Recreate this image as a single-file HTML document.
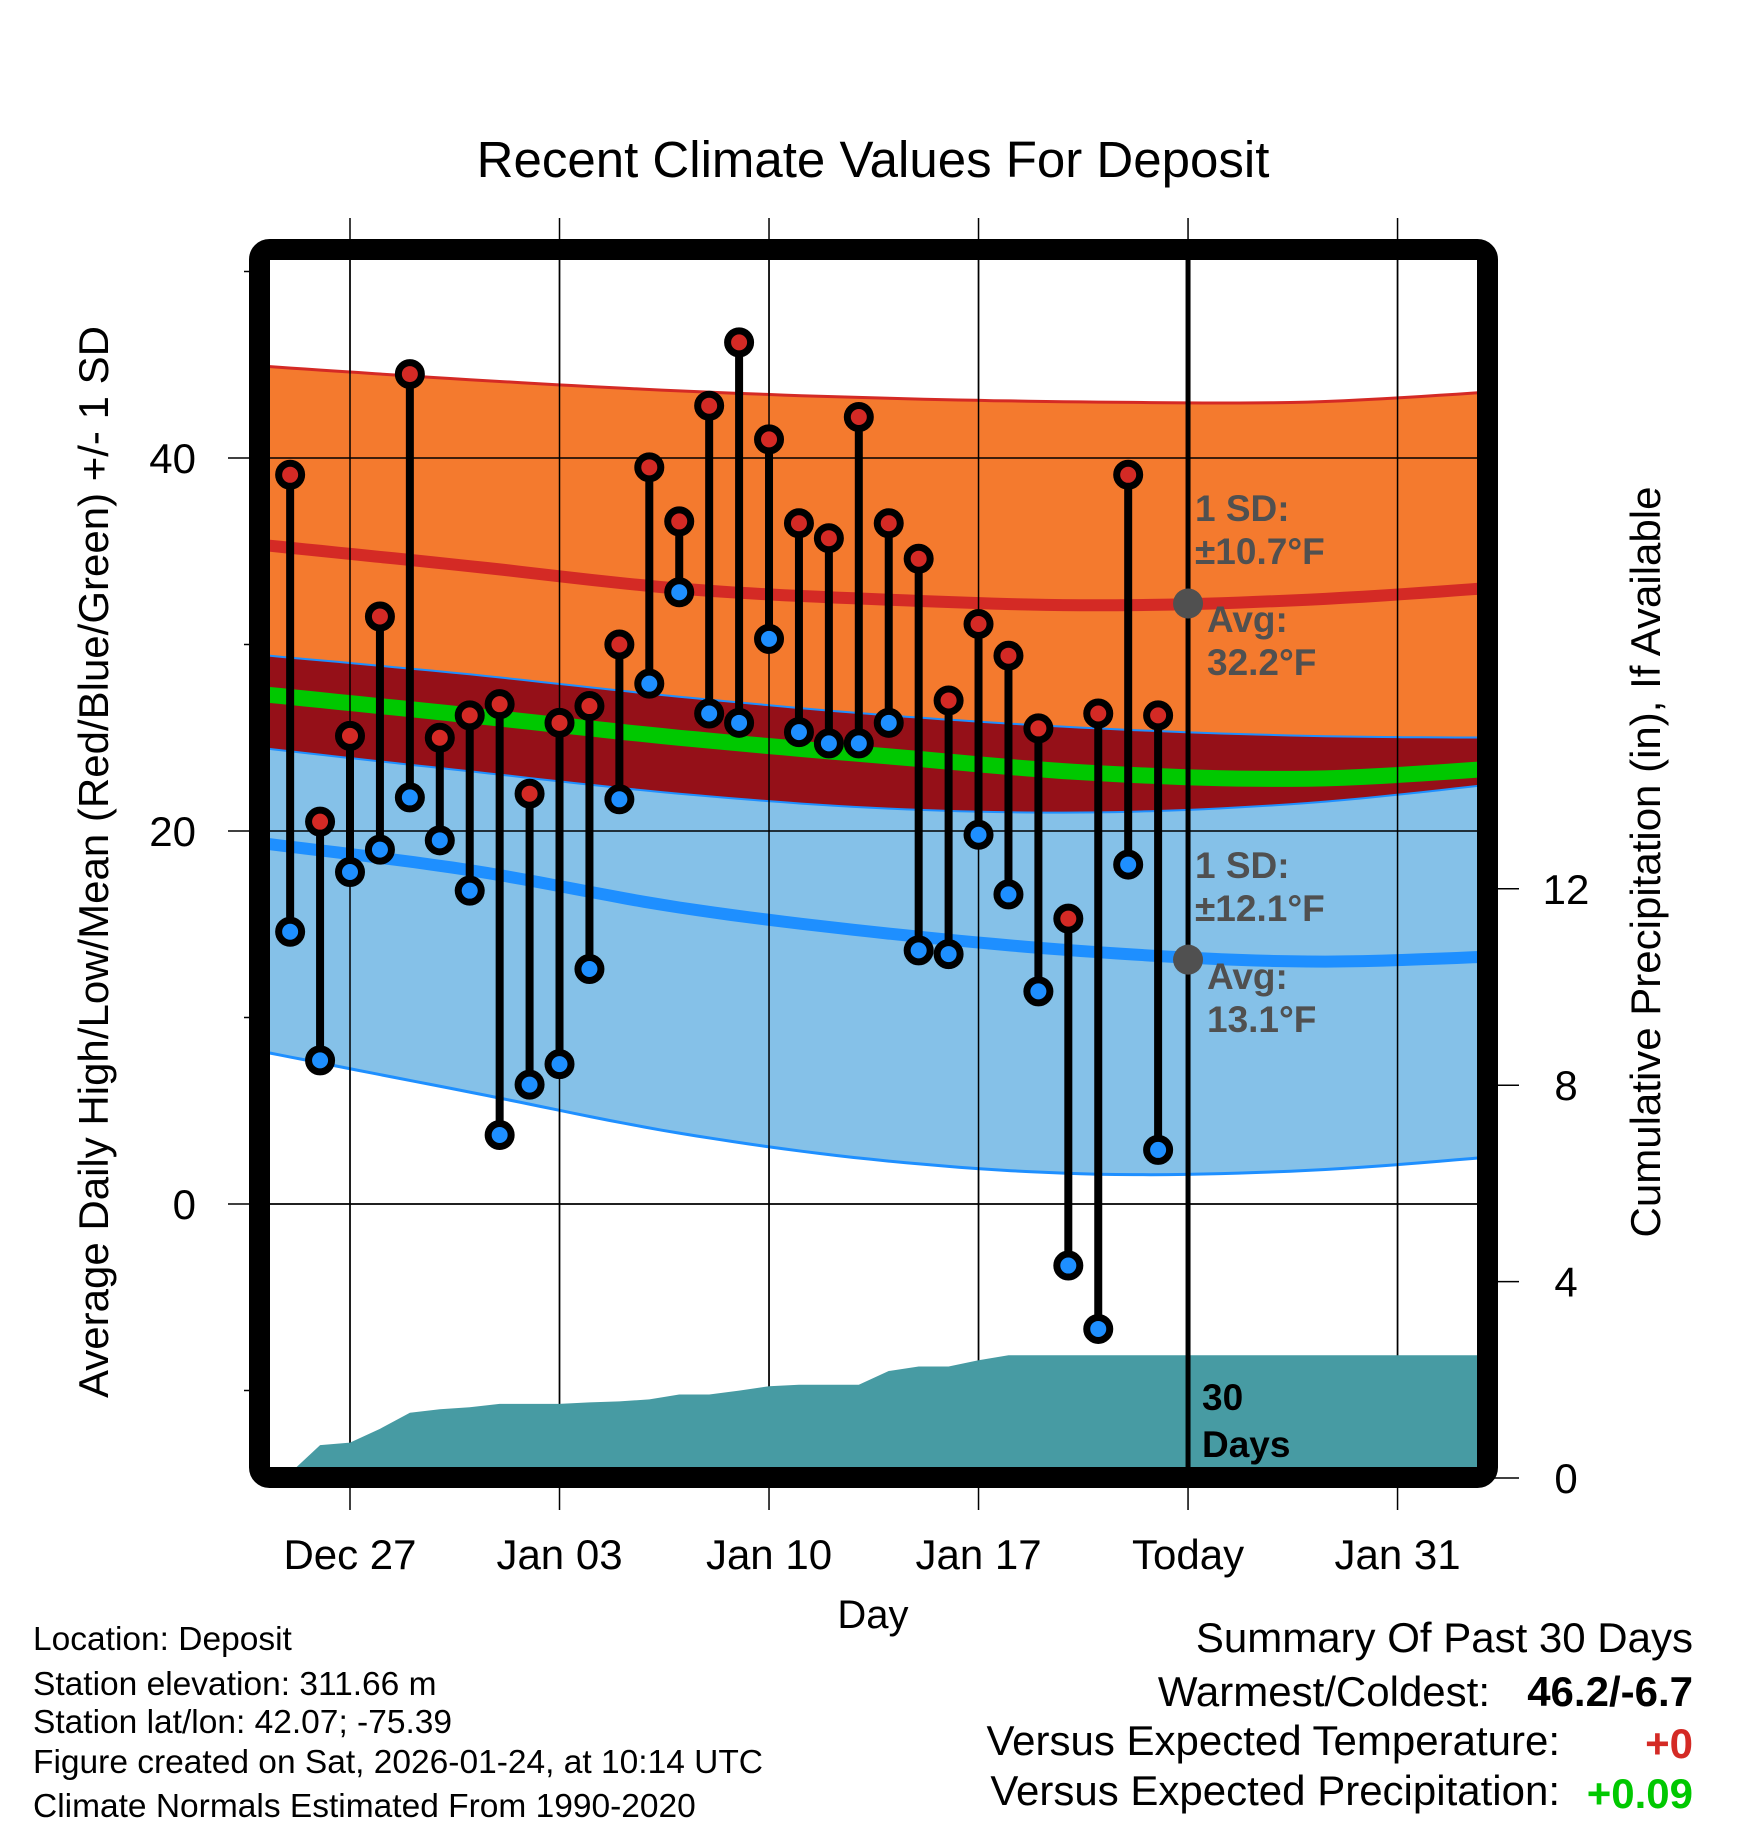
<!DOCTYPE html>
<html><head><meta charset="utf-8"><style>
html,body{margin:0;padding:0;background:#fff}
svg{display:block;font-family:"Liberation Sans",Arial,sans-serif}
</style></head><body>
<svg id="chart" width="1748" height="1828" viewBox="0 0 1748 1828" xmlns="http://www.w3.org/2000/svg">
<defs><clipPath id="plotclip"><rect x="270" y="260" width="1208" height="1208"/></clipPath></defs>
<rect x="0" y="0" width="1748" height="1828" fill="#fff"/>
<text x="873" y="177" font-size="51" text-anchor="middle">Recent Climate Values For Deposit</text>
<g id="grid"></g>
<g id="plot" clip-path="url(#plotclip)"></g>
<g id="overlay"></g>
<rect x="259.5" y="249.5" width="1228" height="1228" rx="10" fill="none" stroke="#000" stroke-width="21"/>
<g id="axes"></g>
<text transform="translate(108,862) rotate(-90)" font-size="42" text-anchor="middle">Average Daily High/Low/Mean (Red/Blue/Green) +/- 1 SD</text>
<text transform="translate(1660,862) rotate(-90)" font-size="42" text-anchor="middle">Cumulative Precipitation (in), If Available</text>
<text x="873" y="1628" font-size="40" text-anchor="middle">Day</text>
<g font-size="33.5">
<text x="33" y="1650">Location: Deposit</text>
<text x="33" y="1695">Station elevation: 311.66 m</text>
<text x="33" y="1733">Station lat/lon: 42.07; -75.39</text>
<text x="33" y="1773">Figure created on Sat, 2026-01-24, at 10:14 UTC</text>
<text x="33" y="1817">Climate Normals Estimated From 1990-2020</text>
</g>
<g font-size="42" text-anchor="end">
<text x="1693" y="1652">Summary Of Past 30 Days</text>
<text x="1490" y="1706">Warmest/Coldest:</text>
<text x="1693" y="1706" font-weight="bold">46.2/-6.7</text>
<text x="1560" y="1755">Versus Expected Temperature:</text>
<text x="1693" y="1758" font-weight="bold" fill="#d42a25">+0</text>
<text x="1560" y="1805">Versus Expected Precipitation:</text>
<text x="1693" y="1808" font-weight="bold" fill="#00c800">+0.09</text>
</g>
</svg>
<script>
// observed data: days since Dec 25
const obsDays = [0,1,2,3,4,5,6,7,8,9,10,11,12,13,14,15,16,17,18,19,20,21,22,23,24,25,26,27,28,29];
const highs = [39.1,20.5,25.1,31.5,44.5,25.0,26.2,26.8,22.0,25.8,26.7,30.0,39.5,36.6,42.8,46.2,41.0,36.5,35.7,42.2,36.5,34.6,27.0,31.1,29.4,25.5,15.3,26.3,39.1,26.2];
const lows = [14.6,7.7,17.8,19.0,21.8,19.5,16.8,3.7,6.4,7.5,12.6,21.7,27.9,32.8,26.3,25.8,30.3,25.3,24.7,24.7,25.8,13.6,13.4,19.8,16.6,11.4,-3.3,-6.7,18.2,2.9];
const precip = [0.1,0.67,0.72,1.0,1.33,1.4,1.44,1.51,1.51,1.51,1.54,1.56,1.6,1.7,1.7,1.78,1.87,1.9,1.9,1.9,2.18,2.27,2.27,2.4,2.5,2.5,2.5,2.5,2.5,2.5];
// normals
const normDays = [-0.7,6,13,20,27,34,40.7];
const highPlusSD = [44.9,44.2,43.6,43.2,43.0,43.0,43.6];
const highMean = [35.3,34.2,33.0,32.4,32.1,32.4,33.1];
const highMinusSD = [29.4,28.4,27.2,26.2,25.5,25.1,25.0];
const meanNormal = [27.3,26.2,25.0,24.0,23.1,22.8,23.4];
const lowPlusSD = [24.4,23.2,22.0,21.2,21.0,21.5,22.6];
const lowMean = [19.3,17.9,15.9,14.5,13.5,13.0,13.3];
const lowMinusSD = [8.1,6.0,3.8,2.3,1.6,1.8,2.6];
const xTickDays = [2,9,16,23,30,37];
const xTickLabels = ["Dec 27","Jan 03","Jan 10","Jan 17","Today","Jan 31"];
const yTicks = [0,20,40];
const yMinor = [-10,10,30,50];
const pTicks = [0,4,8,12];
const todayDay = 30;

const NS="http://www.w3.org/2000/svg";
const X = d => 350 + (d-2)*29.93;
const Y = v => 1204 - v*18.65;
const P = p => 1478 - p*49.1;
function mk(tag, attrs, parent){const e=document.createElementNS(NS,tag);for(const k in attrs)e.setAttribute(k,attrs[k]);parent.appendChild(e);return e;}
const grid=document.getElementById('grid'), plot=document.getElementById('plot'), ov=document.getElementById('overlay'), axes=document.getElementById('axes');
// smooth (Catmull-Rom) sampled points
function smooth(arr){
  const out=[];
  const n=normDays.length;
  for(let i=0;i<n-1;i++){
    const p0=Math.max(i-1,0),p3=Math.min(i+2,n-1);
    for(let s=0;s<12;s++){
      const t=s/12,t2=t*t,t3=t2*t;
      const f=(a,b,c,d)=>0.5*((2*b)+(-a+c)*t+(2*a-5*b+4*c-d)*t2+(-a+3*b-3*c+d)*t3);
      const d=f(normDays[p0],normDays[i],normDays[i+1],normDays[p3]);
      const v=f(arr[p0],arr[i],arr[i+1],arr[p3]);
      out.push(X(d).toFixed(1)+','+Y(v).toFixed(1));
    }
  }
  out.push(X(normDays[n-1]).toFixed(1)+','+Y(arr[n-1]).toFixed(1));
  return out;
}
function band(top,bot,fill,name){
  const d='M'+smooth(top).join(' L')+' L'+smooth(bot).reverse().join(' L')+'Z';
  const e=mk('path',{d:d,fill:fill},plot);
  
  
}
function line(arr,stroke,w,name){
  const e=mk('polyline',{points:smooth(arr).join(' '),fill:'none',stroke:stroke,'stroke-width':w},plot);
  
  
}
band(highPlusSD,highMinusSD,'#f47a2e','high-sd-band');
band(highMinusSD,lowPlusSD,'#951018','overlap-band');
band(lowPlusSD,lowMinusSD,'#85c1e8','low-sd-band');
line(highPlusSD,'#d42a25',3,'high-plus-sd-line');
line(highMinusSD,'#1e8fff',2,'high-minus-sd-line');
line(highMean,'#d42a25',12,'high-mean-line');
line(meanNormal,'#00c800',16,'mean-line');
line(lowMean,'#1e8fff',12,'low-mean-line');
line(lowPlusSD,'#1e8fff',2,'low-plus-sd-line');
line(lowMinusSD,'#1e8fff',3,'low-minus-sd-line');
// gridlines
xTickDays.forEach((d,i)=>{
  const g=mk('line',{x1:X(d),x2:X(d),y1:218,y2:1510,stroke:'#000','stroke-width':1.5},grid);
  
  
  const t=mk('text',{x:X(d),y:1569,'font-size':42,'text-anchor':'middle'},axes);
  t.textContent=xTickLabels[i];
  
  
});
yTicks.forEach(v=>{
  const g=mk('line',{x1:228,x2:1478,y1:Y(v),y2:Y(v),stroke:'#000','stroke-width':1.5},grid);
  
  
  const t=mk('text',{x:196,y:Y(v)+15,'font-size':42,'text-anchor':'end'},axes);
  t.textContent=v;
  
  
});
yMinor.forEach(v=>{
  const g=mk('line',{x1:244,x2:260,y1:Y(v),y2:Y(v),stroke:'#000','stroke-width':1.5},grid);
  
  
});
pTicks.forEach(p=>{
  const g=mk('line',{x1:1488,x2:1519,y1:P(p),y2:P(p),stroke:'#000','stroke-width':1.5},axes);
  
  
  const t=mk('text',{x:1566,y:P(p)+15,'font-size':42,'text-anchor':'middle'},axes);
  t.textContent=p;
  
  
});
xTickDays.forEach(d=>{const g=mk('line',{x1:X(d),x2:X(d),y1:260,y2:1468,stroke:'#000','stroke-width':1.5},plot);
  
  });
yTicks.forEach(v=>{const g=mk('line',{x1:270,x2:1478,y1:Y(v),y2:Y(v),stroke:'#000','stroke-width':1.5},plot);
  
  });
// precip area
let pd='M'+X(obsDays[0]-0.35)+','+P(0);
obsDays.forEach((d,i)=>{pd+=' L'+X(d).toFixed(1)+','+P(precip[i]).toFixed(1);});
pd+=' L1490,'+P(precip[precip.length-1]).toFixed(1)+' L1490,1490 L'+X(obsDays[0]-0.35)+',1490Z';
const pa=mk('path',{d:pd,fill:'#479ba3'},plot);


const tl=mk('line',{x1:X(todayDay),x2:X(todayDay),y1:260,y2:1468,stroke:'#000','stroke-width':5},ov);


obsDays.forEach((d,i)=>{
  const s=mk('line',{x1:X(d),x2:X(d),y1:Y(highs[i]),y2:Y(lows[i]),stroke:'#000','stroke-width':8},ov);
  
  
});
obsDays.forEach((d,i)=>{
  const h=mk('circle',{cx:X(d),cy:Y(highs[i]),r:11.5,fill:'#d42a25',stroke:'#000','stroke-width':7},ov);
  
  
  const l=mk('circle',{cx:X(d),cy:Y(lows[i]),r:11.5,fill:'#1e8fff',stroke:'#000','stroke-width':7},ov);
  
  
});
[32.2,13.1].forEach(v=>{
  const c=mk('circle',{cx:X(todayDay),cy:Y(v),r:15,fill:'#505050'},ov);
  
  
});
function lbl(x,y,txt,name,size,fill){
  const t=mk('text',{x:x,y:y,'font-size':size,'font-weight':'bold',fill:fill},ov);
  t.textContent=txt;
  
  
}
lbl(1195,521,'1 SD:','high-sd-label',37,'#505050');
lbl(1195,564,'±10.7°F','high-sd-value',37,'#505050');
lbl(1207,632,'Avg:','high-avg-label',37,'#505050');
lbl(1207,675,'32.2°F','high-avg-value',37,'#505050');
lbl(1195,878,'1 SD:','low-sd-label',37,'#505050');
lbl(1195,921,'±12.1°F','low-sd-value',37,'#505050');
lbl(1207,989,'Avg:','low-avg-label',37,'#505050');
lbl(1207,1032,'13.1°F','low-avg-value',37,'#505050');
lbl(1202,1410,'30','days-label-num',37,'#000');
lbl(1202,1457,'Days','days-label-text',37,'#000');
</script>
</body></html>
